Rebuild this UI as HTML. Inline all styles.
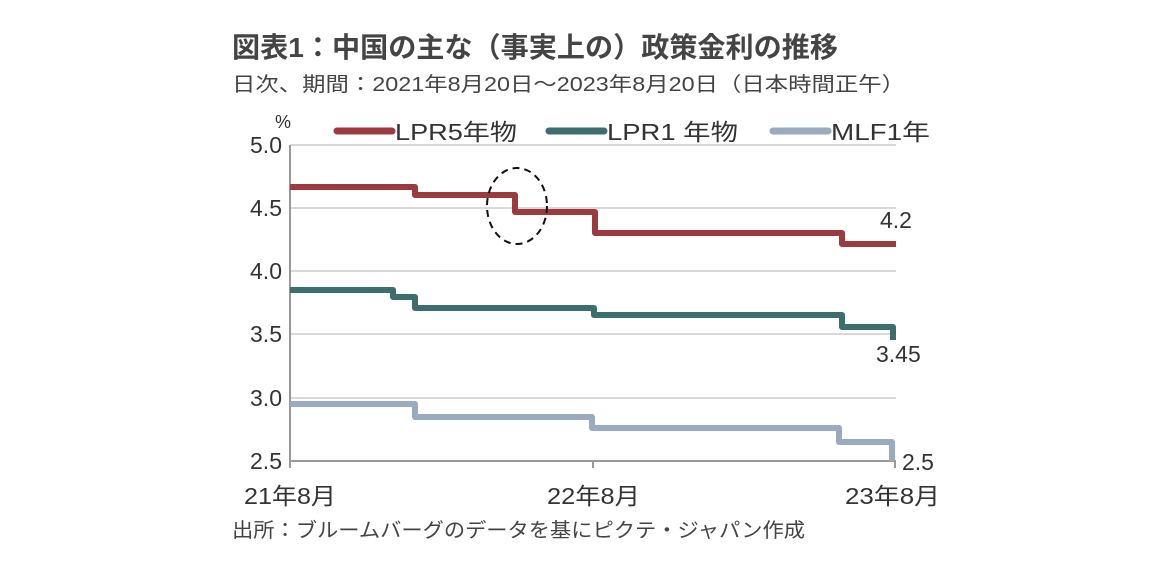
<!DOCTYPE html>
<html><head><meta charset="utf-8"><style>
body{margin:0;background:#fff;}
svg text{font-family:"Liberation Sans","Noto Sans CJK JP",sans-serif;fill:#333;}
</style></head><body>
<svg width="1152" height="577" viewBox="0 0 1152 577" xmlns="http://www.w3.org/2000/svg">
<text x="232" y="57" font-size="28" font-weight="bold" textLength="606" lengthAdjust="spacingAndGlyphs" style="fill:#444">図表1：中国の主な（事実上の）政策金利の推移</text>
<text x="232" y="91" font-size="20" textLength="673" lengthAdjust="spacingAndGlyphs" style="fill:#444">日次、期間：2021年8月20日～2023年8月20日（日本時間正午）</text>
<g stroke="#d9d9d9" stroke-width="2">
<line x1="290" y1="145" x2="896" y2="145"/><line x1="290" y1="208" x2="896" y2="208"/>
<line x1="290" y1="271" x2="896" y2="271"/><line x1="290" y1="334" x2="896" y2="334"/>
<line x1="290" y1="398" x2="896" y2="398"/>
</g>
<line x1="290" y1="145" x2="290" y2="468" stroke="#999" stroke-width="2"/>
<line x1="290" y1="461" x2="896" y2="461" stroke="#999" stroke-width="2"/>
<line x1="593" y1="461" x2="593" y2="468" stroke="#999" stroke-width="2"/>
<line x1="895" y1="461" x2="895" y2="468" stroke="#999" stroke-width="2"/>
<g font-size="23" text-anchor="end">
<text x="282" y="153">5.0</text><text x="282" y="216">4.5</text><text x="282" y="279">4.0</text>
<text x="282" y="342">3.5</text><text x="282" y="406">3.0</text><text x="282" y="469">2.5</text>
</g>
<text x="275" y="128" font-size="18">%</text>
<g font-size="23">
<text x="244" y="504" textLength="92" lengthAdjust="spacingAndGlyphs">21年8月</text>
<text x="547" y="504" textLength="93" lengthAdjust="spacingAndGlyphs">22年8月</text>
<text x="845" y="504" textLength="95" lengthAdjust="spacingAndGlyphs">23年8月</text>
</g>
<g fill="none" stroke-width="6" stroke-linejoin="round">
<path stroke="#9b3b40" d="M290 187H415V195H515V212H595V233H842V244H896"/>
<path stroke="#3d6e6e" d="M290 290H393V297H415V308H594V315H842V327H893V340"/>
<path stroke="#9aaabf" d="M290 404H415V417H592V428H839V442H892V461"/>
</g>
<ellipse cx="517" cy="206" rx="30" ry="38" fill="none" stroke="#111" stroke-width="2" stroke-dasharray="7,5"/>
<text x="880" y="228" font-size="23">4.2</text>
<text x="876" y="362" font-size="23">3.45</text>
<text x="902" y="470" font-size="23">2.5</text>
<g stroke-width="7" stroke-linecap="round">
<line x1="337" y1="131" x2="392" y2="131" stroke="#9b3b40"/>
<line x1="549" y1="131" x2="604" y2="131" stroke="#3d6e6e"/>
<line x1="773" y1="131" x2="828" y2="131" stroke="#9aaabf"/>
</g>
<g font-size="23">
<text x="395" y="140" textLength="122" lengthAdjust="spacingAndGlyphs">LPR5年物</text>
<text x="607" y="140" textLength="131" lengthAdjust="spacingAndGlyphs">LPR1 年物</text>
<text x="831" y="140" textLength="99" lengthAdjust="spacingAndGlyphs">MLF1年</text>
</g>
<text x="232" y="537" font-size="20" textLength="573" lengthAdjust="spacingAndGlyphs" style="fill:#444">出所：ブルームバーグのデータを基にピクテ・ジャパン作成</text>
</svg>
</body></html>
